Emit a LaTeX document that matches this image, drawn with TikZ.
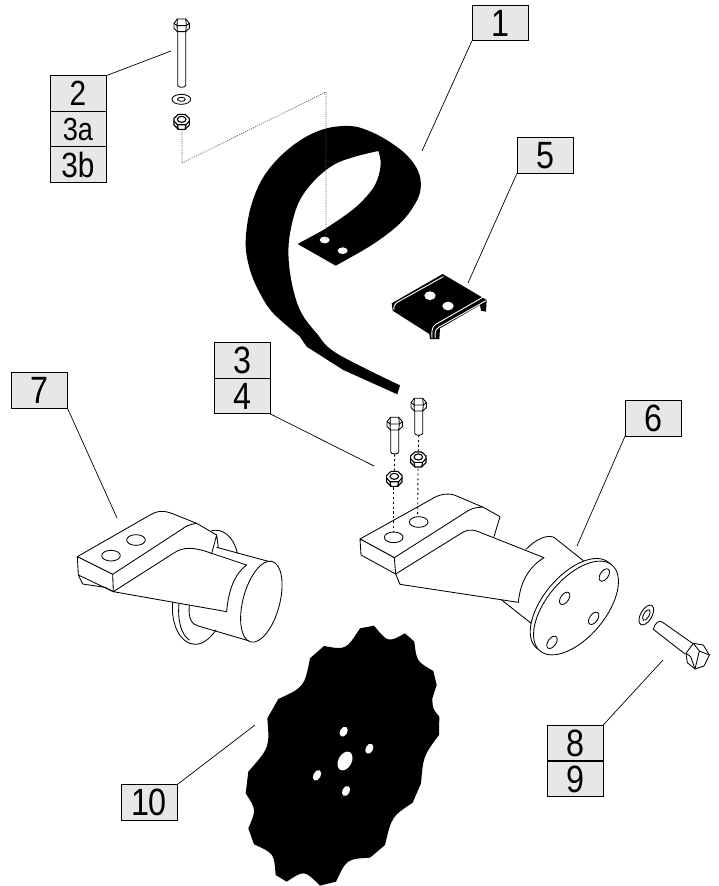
\documentclass[tikz,border=0pt]{standalone}
\usepackage{fontspec}
\newfontfamily\labfont[FakeStretch=0.85]{Liberation Sans}
\definecolor{labfill}{HTML}{E6E7E8}
\tikzset{
  partlabel/.style={draw=black,line width=.9pt,fill=labfill,minimum width=56pt,minimum height=35.5pt,inner sep=0pt,outer sep=0pt,font=\labfont\fontsize{38}{38}\selectfont,text depth=0pt},
  smalllabel/.style={partlabel,font=\labfont\fontsize{#1}{#1}\selectfont},
  leader/.style={line width=.7pt,black},
  part/.style={line width=.85pt,black,line join=round,line cap=round},
  dotline/.style={line width=.7pt,black!65,dash pattern=on 1pt off 1.2pt},
  dashline/.style={line width=.9pt,black,dash pattern=on 2.2pt off 2.6pt},
  zoomed/.style={x=.33333pt,y=-.33333pt}
}
% ellipse in zoomed units: options, x, y, rx, ry, angle
\newcommand\zell[6][part]{\path[#1,shift={(#2,#3)},rotate=#6] (0,0) ellipse (#4 and #5);}
% vertical bolt: head centre x,y in picture units, shank length in zoomed units
\newcommand\vbolt[3]{\begin{scope}[shift={(#1,#2)},zoomed,part]
  \draw[fill=white] (-12,18) -- (-12,18+#3) arc (180:0:12 and 6) -- (12,18);
  \draw[fill=white] (-23,-5) -- (-13,-18) -- (12,-18) -- (23,-5) -- (23,10) -- (12,20) -- (-13,20) -- (-23,10) -- cycle;
  \draw (-23,-5) -- (-14,2) -- (14,2) -- (23,-5) (-14,2) -- (-13,20) (14,2) -- (12,20) (-13,-18) -- (-14,2) (12,-18) -- (14,2);
\end{scope}}
\newcommand\hexnut[2]{\begin{scope}[shift={(#1,#2)},zoomed,part]
  \draw[fill=white,line width=1.1pt] (-23,-10) -- (-10,-22) -- (10,-22) -- (23,-10) -- (23,10) -- (10,23) -- (-10,23) -- (-23,10) -- cycle;
  \draw[line width=1.1pt] (-23,-2) -- (-13,9) -- (13,9) -- (23,-2) (-13,9) -- (-10,23) (13,9) -- (10,23);
  \draw[line width=1.1pt,fill=white] (0,-7) ellipse (13 and 9);
\end{scope}}
\begin{document}
\begin{tikzpicture}[x=1pt,y=-1pt]
\useasboundingbox (0,0) rectangle (719,886);
\fill[white] (0,0) rectangle (719,886);

% ---------- labels
\node[partlabel] (n1) at (500,23) {1};
\node[smalllabel=35] (n2) at (78,93.5) {2};
\node[smalllabel=32] (n3a) at (78,129) {3a};
\node[smalllabel=35] (n3b) at (78,164.5) {3b};
\node[partlabel] (n5) at (545,155.5) {5};
\node[partlabel] (n3) at (242,360.5) {3};
\node[partlabel] (n4) at (242,396) {4};
\node[partlabel] (n7) at (39.5,390.5) {7};
\node[partlabel] (n6) at (653,418.5) {6};
\node[partlabel] (n8) at (575,743) {8};
\node[partlabel] (n9) at (575,779) {9};
\node[partlabel] (n10) at (149,802.5) {10};

% ---------- leader ends
\coordinate (e1) at (422,151);
\coordinate (e2) at (171,51);
\coordinate (e5) at (468,283);
\coordinate (e34) at (374,466);
\coordinate (e7) at (117,518);
\coordinate (e6) at (577,546);
\coordinate (e89) at (663,660);
\coordinate (e10) at (255,725);
\draw[leader] (n1.south west) -- (e1);
\draw[leader] (n2.north east) -- (e2);
\draw[leader] (n5.south west) -- (e5);
\draw[leader] (n4.south east) -- (e34);
\draw[leader] (n7.south east) -- (e7);
\draw[leader] (n6.south west) -- (e6);
\draw[leader] (n8.north east) -- (e89);
\draw[leader] (n10.north east) -- (e10);

% ---------- blade (part 1)
\begin{scope}[shift={(230,100)},zoomed]
\fill[black] (203,432) -- (317,497)
  -- plot[smooth,tension=.6] coordinates {(317,497) (430,432) (510,370) (555,312) (572,265) (565,215) (530,165) (470,120) (410,90) (360,78) (290,85) (220,115) (150,170) (95,240) (60,330) (47,430) (60,510) (90,580) (130,640) (208,708)}
  -- (230,740) -- (340,810) -- (502,883) -- (510,856)
  -- plot[smooth,tension=.6] coordinates {(510,856) (320,760) (260,700) (215,640) (190,570) (176,480) (180,400) (205,310) (250,245) (310,195) (375,170) (445,153)}
  -- plot[smooth,tension=.6] coordinates {(445,153) (452,195) (435,255) (390,310) (340,350) (280,390)}
  -- cycle;
\zell[fill=white]{284}{420}{15}{10}{0}
\zell[fill=white]{338}{452}{15}{10}{0}
\end{scope}

% ---------- dotted route, hardware upper left
\coordinate (d0) at (182,130);
\coordinate (d1) at (182,163);
\coordinate (d2) at (326,92);
\coordinate (d3) at (326,240);
\draw[dotline] (d0) -- (d1) -- (d2) -- (d3);
\vbolt{181.7}{25}{163}
\begin{scope}[shift={(40,10)},zoomed]
\zell[part,draw,fill=white]{424}{268}{28}{15}{0}
\zell[part,draw,fill=white]{424}{268}{12}{6}{0}
\end{scope}
\hexnut{181.7}{121.7}

% ---------- clip (part 5)
\begin{scope}[shift={(380,260)},zoomed]
\fill[black,line join=round] (35,130) -- (188,42) -- (320,120) -- (318,155) -- (303,152) -- (300,135) -- (180,205) -- (178,237) -- (150,237) -- (148,222) -- (38,152) -- cycle;
\draw[white,line width=.9pt] (190,50) -- (55,125) .. controls (43,132) and (40,140) .. (42,150);
\draw[white,line width=.9pt] (308,112) -- (167,193) .. controls (156,200) and (154,215) .. (156,234);
\draw[white,line width=.9pt] (318,122) -- (176,202) .. controls (165,209) and (164,220) .. (166,234);
\zell[fill=white]{150}{107}{17}{13}{0}
\zell[fill=white]{204}{138}{17}{13}{0}
\end{scope}

% ---------- right yoke (part 6)
\begin{scope}[shift={(350,390)},zoomed,part]
\draw (528,478) .. controls (555,450) and (590,432) .. (612,442) -- (700,512);
\draw (455,630) -- (550,705);
\zell[part,draw,fill=white]{668}{646}{168}{88}{50}
\zell[part,draw,fill=white]{678}{654}{168}{88}{50}
\zell[part,draw]{763}{555}{21}{12}{55}
\zell[part,draw]{644}{625}{21}{12}{55}
\zell[part,draw]{731}{685}{21}{12}{55}
\zell[part,draw]{606}{757}{21}{12}{55}
\draw[fill=white] (137,552) -- (150,583) -- (505,637) .. controls (510,585) and (530,535) .. (582,503) -- (385,425) .. controls (360,415) and (345,422) .. (330,432) -- cycle;
\draw (400,352) -- (450,380) -- (432,440);
\draw[fill=white] (30,447) -- (240,330) .. controls (270,310) and (300,308) .. (320,318) -- (400,352) .. controls (375,350) and (355,360) .. (345,368) -- (133,503) -- cycle;
\draw[fill=white] (30,447) -- (33,495) -- (137,552) -- (133,503) -- cycle;
\zell[part,draw]{131}{442}{28}{16}{0}
\zell[part,draw]{206}{396}{28}{16}{0}
\coordinate (hA) at (131,425);
\coordinate (hB) at (203,375);
\coordinate (sA) at (134,193);
\coordinate (nA) at (133,242);
\coordinate (nAb) at (131,292);
\coordinate (sB) at (206,135);
\coordinate (nB) at (205,184);
\coordinate (nBb) at (204,236);
\end{scope}
\draw[dashline] (sA) -- (nA);
\draw[dashline] (nAb) -- (hA);
\draw[dashline] (sB) -- (nB);
\draw[dashline] (nBb) -- (hB);
\vbolt{394.7}{423.3}{68}
\vbolt{418.7}{404.3}{69}
\hexnut{394.3}{478.7}
\hexnut{418.3}{459.3}

% ---------- left yoke (part 7)
\begin{scope}[shift={(60,490)},zoomed,part]
\draw (455,122) .. controls (485,115) and (520,135) .. (532,190);
\draw (338,338) .. controls (332,400) and (360,462) .. (405,463) .. controls (430,463) and (450,445) .. (468,420);
\draw (357,340) .. controls (352,395) and (365,435) .. (388,450);
\draw (388,345) .. controls (384,385) and (395,403) .. (415,408) -- (575,455);
\draw (470,172) -- (640,218);
\zell[part,draw,fill=white]{604}{335}{125}{55}{75}
\draw[fill=white] (160,305) -- (500,365) .. controls (505,300) and (525,250) .. (560,225) -- (455,190) .. controls (400,170) and (370,170) .. (340,190) -- cycle;
\draw (410,100) -- (470,135) -- (455,190) (470,135) -- (475,172);
\draw[fill=white] (52,200) -- (270,75) .. controls (295,60) and (315,62) .. (340,72) -- (410,100) .. controls (390,102) and (375,110) .. (365,118) -- (158,253) -- cycle;
\draw[fill=white] (52,200) -- (55,255) -- (160,305) -- (158,253) -- cycle;
\draw (55,255) -- (68,282) -- (135,292) -- (160,305);
\zell[part,draw]{153}{197}{28}{16}{0}
\zell[part,draw]{228}{150}{28}{16}{0}
\end{scope}

% ---------- washer and bolt (parts 8, 9)
\begin{scope}[shift={(600,590)},zoomed,part]
\zell[part,draw]{139}{75}{33}{17}{60}
\zell[part,draw]{139}{75}{18}{8}{60}
\draw[fill=white] (285,165) -- (188,97) .. controls (178,88) and (165,98) .. (160,118) -- (255,192);
\draw[fill=white] (258,190) -- (280,160) -- (310,165) -- (328,195) -- (312,228) -- (285,237) -- (262,218) -- cycle;
\draw (280,160) -- (298,183) -- (328,195) (298,183) -- (285,237) (258,190) -- (272,200) -- (285,237);
\end{scope}

% ---------- disc (part 10)
\begin{scope}[shift={(230,610)},zoomed]
\fill[black] (390,55) -- (432,47) .. controls (474,98) .. (525,70) -- (553,95)
  .. controls (560,154) .. (610,183) -- (620,225) -- (607,265)
  .. controls (608,296) .. (628,320) -- (627,375)
  .. controls (580,438) .. (573,520) -- (548,578)
  .. controls (485,620) .. (465,705) -- (420,743)
  .. controls (350,747) .. (318,815) -- (270,827)
  .. controls (223,780) .. (170,815) -- (137,795)
  .. controls (132,730) .. (72,703) -- (55,655)
  .. controls (79,599) .. (47,550) -- (55,485)
  .. controls (119,412) .. (112,325) -- (145,267)
  .. controls (223,231) .. (240,145) -- (282,108)
  .. controls (348,120) .. (390,55) -- cycle;
\zell[fill=white]{345}{453}{30}{20}{62}
\zell[fill=white]{341}{365}{16}{11}{62}
\zell[fill=white]{418}{416}{16}{11}{62}
\zell[fill=white]{261}{496}{17}{11}{62}
\zell[fill=white]{348}{543}{16}{11}{62}
\end{scope}
\end{tikzpicture}
\end{document}
